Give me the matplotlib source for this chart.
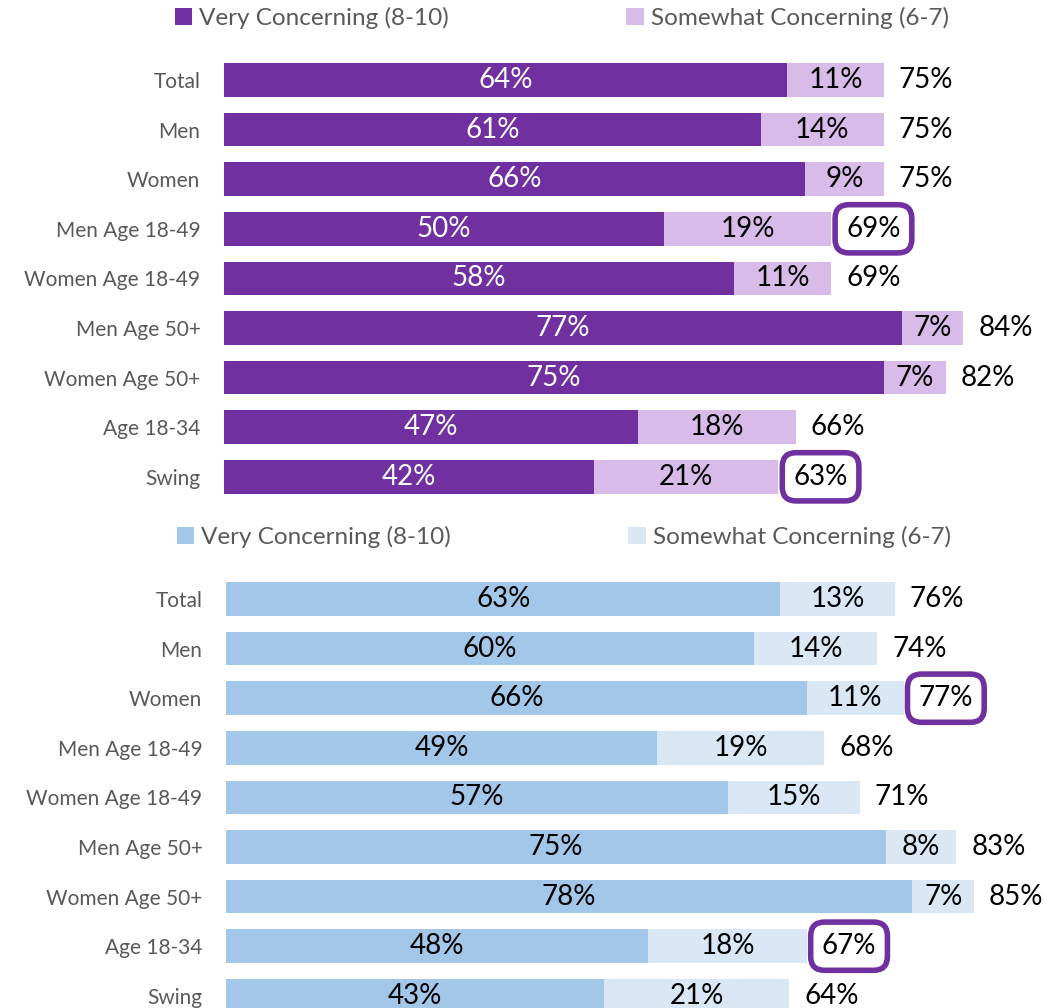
import matplotlib
matplotlib.use("Agg")
import matplotlib.pyplot as plt
from matplotlib.patches import Patch

plt.rcParams["font.family"] = ["Lato", "DejaVu Sans"]

groups = ["Total", "Men", "Women", "Men Age 18-49", "Women Age 18-49",
          "Men Age 50+", "Women Age 50+", "Age 18-34", "Swing"]

# upper panel
very_a = [64, 61, 66, 50, 58, 77, 75, 47, 42]
some_a = [11, 14, 9, 19, 11, 7, 7, 18, 21]
total_a = [75, 75, 75, 69, 69, 84, 82, 66, 63]
boxed_a = ["Men Age 18-49", "Swing"]

# lower panel
very_b = [63, 60, 66, 49, 57, 75, 78, 48, 43]
some_b = [13, 14, 11, 19, 15, 8, 7, 18, 21]
total_b = [76, 74, 77, 68, 71, 83, 85, 67, 64]
boxed_b = ["Women", "Age 18-34"]

legend_labels = ["Very Concerning (8-10)", "Somewhat Concerning (6-7)"]

PURPLE = "#7030A0"
LILAC = "#D8BBE8"
BLUE = "#A3C7E8"
PALE_BLUE = "#DAE8F5"
GREY = "#595959"

W, H = 1063, 1008
fig = plt.figure(figsize=(W / 100, H / 100), dpi=100)

ROW = 49.6        # px per category row
PX_PER_PCT = 8.8  # px per percentage point


def panel(left_px, top_px, very, some, total, boxed, c1, c2, c1_text, legend_y):
    n = len(groups)
    width_px = 100 * PX_PER_PCT
    height_px = n * ROW
    ax = fig.add_axes([left_px / W, 1 - (top_px + height_px) / H,
                       width_px / W, height_px / H])
    y = list(range(n))
    ax.barh(y, very, height=0.68, color=c1)
    ax.barh(y, some, left=very, height=0.68, color=c2)
    ax.set_xlim(0, 100)
    ax.set_ylim(n - 0.5, -0.5)
    ax.set_yticks(y)
    ax.set_yticklabels(groups, fontsize=15, color=GREY)
    ax.tick_params(axis="y", length=0, pad=17)
    ax.set_xticks([])
    for s in ax.spines.values():
        s.set_visible(False)

    for i in y:
        ax.text(very[i] / 2, i, f"{very[i]}%", ha="center", va="center",
                fontsize=20, color=c1_text)
        ax.text(very[i] + some[i] / 2, i, f"{some[i]}%", ha="center",
                va="center", fontsize=20, color="black")
        bbox = None
        if groups[i] in boxed:
            bbox = dict(boxstyle="round,pad=0.4,rounding_size=0.5",
                        facecolor="white", edgecolor=PURPLE, linewidth=4)
        ax.annotate(f"{total[i]}%", xy=(very[i] + some[i], i),
                    xytext=(15, 0), textcoords="offset pixels",
                    ha="left", va="center", fontsize=20, color="black",
                    bbox=bbox, annotation_clip=False)

    handles = [Patch(facecolor=c1), Patch(facecolor=c2)]
    fig.legend(handles, legend_labels, loc="center left",
               bbox_to_anchor=((left_px - 49) / W, 1 - legend_y / H),
               ncol=2, frameon=False, fontsize=17.5, labelcolor=GREY,
               handlelength=0.7, handleheight=0.7, handletextpad=0.3,
               columnspacing=7.3, borderpad=0, borderaxespad=0)
    return ax


panel(224, 80 - ROW / 2, very_a, some_a, total_a, boxed_a,
      PURPLE, LILAC, "white", 18)
panel(226, 599 - ROW / 2, very_b, some_b, total_b, boxed_b,
      BLUE, PALE_BLUE, "black", 537)

fig.savefig("out.png", dpi=100)
